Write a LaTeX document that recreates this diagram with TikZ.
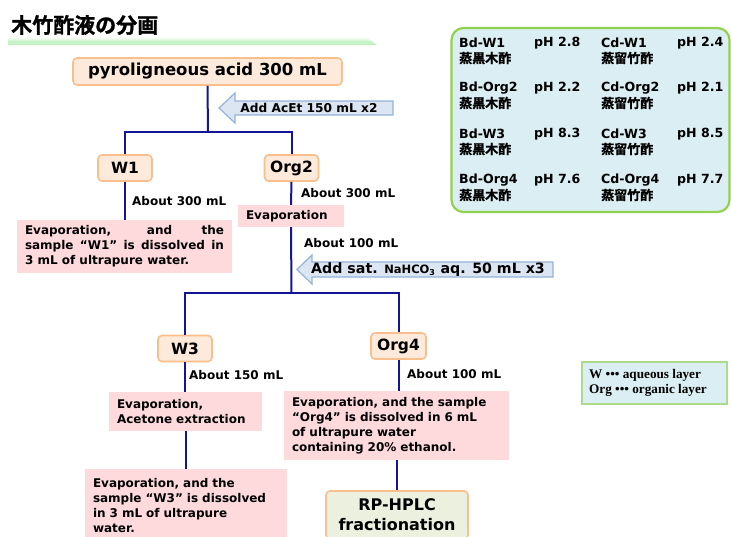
\documentclass[tikz,border=0pt]{standalone}
\usepackage{fontspec}
\setmainfont{DejaVu Sans}
\newfontfamily\jp{Noto Sans CJK JP}[BoldFont={Noto Sans CJK JP Bold}]
\newfontfamily\jpheavy{Noto Sans CJK JP Bold}[FakeBold=1.2]
\newfontfamily\legfont{Liberation Serif}
\definecolor{lineblue}{RGB}{20,20,150}
\definecolor{ofill}{RGB}{253,234,218}
\definecolor{oborder}{RGB}{248,190,140}
\definecolor{pfill}{RGB}{254,218,220}
\definecolor{afill}{RGB}{220,230,242}
\definecolor{aborder}{RGB}{149,179,215}
\definecolor{panfill}{RGB}{218,238,243}
\definecolor{panborder}{RGB}{146,208,80}
\definecolor{gfill}{RGB}{235,241,222}
\definecolor{legborder}{RGB}{170,220,140}
\definecolor{barg}{RGB}{190,240,190}
\tikzset{
  flow/.style={draw=lineblue, line width=2pt},
  obox/.style={draw=oborder, fill=ofill, line width=1.6pt, rounded corners=4pt, inner sep=0pt,
    font=\fontsize{15.5}{18}\selectfont\bfseries},
  pbox/.style={fill=pfill, inner xsep=8pt, inner ysep=0pt, align=left,
    font=\fontsize{12}{15}\selectfont\bfseries},
  note/.style={anchor=west, inner sep=0pt, font=\fontsize{12}{14}\selectfont\bfseries},
  arrowbox/.style={draw=aborder, fill=afill, line width=1.2pt, line join=miter},
  pantxt/.style={anchor=west, inner sep=0pt, font=\fontsize{12.6}{14}\selectfont\bfseries},
  panjp/.style={anchor=west, inner sep=0pt, font=\jpheavy\fontsize{13}{14}\selectfont},
}
\begin{document}
\begin{tikzpicture}[x=1pt,y=-1pt]
\useasboundingbox (0,0) rectangle (731,536);
\clip (0,0) rectangle (731,536);
% title
\node[anchor=west, inner sep=0pt, font=\jpheavy\fontsize{21}{22}\selectfont] (title) at (11,25) {木竹酢液の分画};
\shade[top color=white, bottom color=barg, middle color=barg!80] (8,37) -- (366,37) -- (377,45) -- (8,45) -- cycle;
% main flow nodes
\node[obox, minimum width=269pt, minimum height=27pt, font=\fontsize{16.5}{18}\selectfont\bfseries] (pyro) at (207.5,71.5) {pyroligneous acid 300 mL};
\node[obox, minimum width=54pt, minimum height=26pt] (W1) at (125,168) {W1};
\node[obox, minimum width=54pt, minimum height=26pt] (Org2) at (291.5,168) {Org2};
\node[obox, minimum width=54pt, minimum height=26pt] (W3) at (185,348.5) {W3};
\node[obox, minimum width=55pt, minimum height=26pt] (Org4) at (398.5,346) {Org4};
\node[obox, draw=oborder, fill=gfill, minimum width=142pt, minimum height=48pt, align=center,
  font=\fontsize{16}{20}\selectfont\bfseries] (hplc) at (397,515) {RP-HPLC\\fractionation};
% pink boxes
\node[pbox, text width=199pt, minimum height=53pt, align=justify] (w1box) at (124.5,246.5)
  {Evaporation, and the\linebreak sample “W1” is dissolved in\linebreak 3 mL of ultrapure water.};
\node[pbox, text width=90pt, minimum height=22pt] (evap) at (291,216) {Evaporation};
\node[pbox, text width=137pt, minimum height=39pt] (w3a) at (185.5,411.5) {Evaporation,\\Acetone extraction};
\node[pbox, text width=209pt, minimum height=69pt] (org4box) at (396.5,425.5)
  {Evaporation, and the sample\\“Org4” is dissolved in 6 mL\\of ultrapure water\\containing 20\% ethanol.};
\node[pbox, text width=186pt, minimum height=74pt] (w3b) at (186,506)
  {Evaporation, and the\\sample “W3” is dissolved\\in 3 mL of ultrapure\\water.};
% connectors
\coordinate (j1) at (208,132);
\coordinate (j2) at (291.5,293);
\draw[flow] (pyro.south) -- (j1);
\draw[flow] (W1.north) |- (j1) -| (Org2.north);
\draw[flow] (W1.south) -- (w1box.north -| W1.south);
\draw[flow] (Org2.south) -- (evap.north);
\draw[flow] (evap.south) -- (j2);
\draw[flow] (W3.north) |- (j2) -| (Org4.north);
\draw[flow] (W3.south) -- (w3a.north -| W3.south);
\draw[flow] (w3a.south) -- (w3b.north -| w3a.south);
\draw[flow] (Org4.south) -- (org4box.north -| Org4.south);
\draw[flow] (org4box.south -| hplc.north) -- (hplc.north);
% volume notes
\node[note] (a1) at (132,201) {About 300 mL};
\node[note] (a2) at (301,193) {About 300 mL};
\node[note] (a3) at (304,243) {About 100 mL};
\node[note] (a4) at (189,375) {About 150 mL};
\node[note] (a5) at (407,374) {About 100 mL};
% reagent arrows
\draw[arrowbox] (393,101) -- (235,101) -- (235,93) -- (219,108) -- (235,123) -- (235,115) -- (393,115) -- cycle;
\node[inner sep=0pt, font=\fontsize{12.2}{14}\selectfont\bfseries] (acet) at (309,108) {Add AcEt 150 mL x2};
\draw[arrowbox] (553,262) -- (312,262) -- (312,255) -- (297,269.5) -- (312,284) -- (312,277) -- (553,277) -- cycle;
\node[inner sep=0pt, font=\fontsize{14.2}{16}\selectfont\bfseries] (nahco) at (428,269.5)
  {Add sat. {\fontsize{11.5}{12}\selectfont NaHCO$_{\mathbf{3}}$} aq. 50 mL x3};
% right panel
\node[draw=panborder, fill=panfill, line width=2.2pt, rounded corners=12pt, minimum width=278pt, minimum height=184pt, inner sep=0pt] (panel) at (590.5,120) {};
\foreach \y/\bd/\bp/\cd/\cp in {43/Bd-W1/pH 2.8/Cd-W1/pH 2.4, 88/Bd-Org2/pH 2.2/Cd-Org2/pH 2.1, 134/Bd-W3/pH 8.3/Cd-W3/pH 8.5, 180/Bd-Org4/pH 7.6/Cd-Org4/pH 7.7}{
  \node[pantxt] (bd\y) at (459,\y) {\bd};
  \node[pantxt] (bp\y) at (534,\y) {\bp};
  \node[pantxt] (cd\y) at (601,\y) {\cd};
  \node[pantxt] (cp\y) at (677,\y) {\cp};
  \node[panjp] (bj\y) at (459,\y+15) {蒸黒木酢};
  \node[panjp] (cj\y) at (601,\y+15) {蒸留竹酢};
}
% legend
\node[draw=legborder, fill=panfill, line width=1.2pt, minimum width=145pt, minimum height=42pt, inner sep=0pt] (leg) at (654.5,383) {};
\node[anchor=west, inner sep=0pt, align=left, font=\legfont\fontsize{13.2}{15.5}\selectfont\bfseries] (legtxt) at (589,383)
  {W ••• aqueous layer\\Org ••• organic layer};
\end{tikzpicture}
\end{document}
